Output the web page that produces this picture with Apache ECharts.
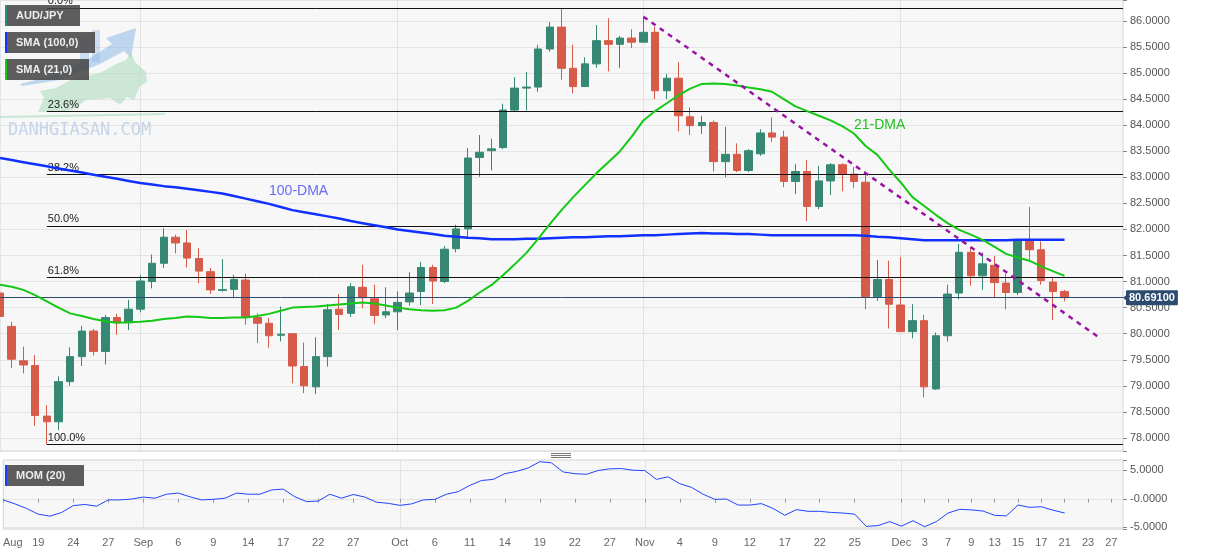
<!DOCTYPE html>
<html><head><meta charset="utf-8">
<script src="https://cdn.jsdelivr.net/npm/echarts@6/dist/echarts.min.js"></script>
<style>html,body{margin:0;padding:0;background:#fff}#c{width:1207px;height:555px}</style>
</head><body><div id="c"></div>
<script>
// ---------- DATA ----------
const categories = [
 '08-16','08-17','08-18','08-19','08-20','08-23','08-24','08-25','08-26','08-27','08-30','08-31',
 '09-01','09-02','09-03','09-06','09-07','09-08','09-09','09-10','09-13','09-14','09-15','09-16','09-17','09-20','09-21','09-22','09-23','09-24','09-27','09-28','09-29','09-30',
 '10-01','10-04','10-05','10-06','10-07','10-08','10-11','10-12','10-13','10-14','10-15','10-18','10-19','10-20','10-21','10-22','10-25','10-26','10-27','10-28','10-29',
 '11-01','11-02','11-03','11-04','11-05','11-08','11-09','11-10','11-11','11-12','11-15','11-16','11-17','11-18','11-19','11-22','11-23','11-24','11-25','11-26','11-29','11-30',
 '12-01','12-02','12-03','12-06','12-07','12-08','12-09','12-10','12-13','12-14','12-15','12-16','12-17','12-20','12-21',
 '12-22','12-23','12-24','12-27','12-28'
];
const opens = [80.78,80.14,79.48,79.39,78.42,78.31,79.08,79.56,80.05,79.66,80.31,80.21,
 80.47,81.00,81.35,81.85,81.74,81.44,81.19,80.83,80.85,81.03,80.31,80.20,79.97,80.00,79.37,78.98,79.56,80.47,80.39,80.89,80.67,80.36,
 80.42,80.61,80.81,81.27,81.00,81.63,82.01,83.38,83.51,83.57,84.29,84.71,84.73,85.46,85.88,85.09,84.74,85.175,85.62,85.55,85.67,
 85.59,85.78,84.66,84.90,84.16,83.99,84.05,83.30,83.44,83.13,83.45,83.85,83.77,82.92,83.11,82.44,82.93,83.24,83.06,82.905,80.71,81.04,
 80.55,80.04,80.25,78.94,79.96,80.78,81.56,81.11,81.31,80.97,80.79,81.78,81.61,80.99,80.81];
const closes = [80.33,79.51,79.40,78.43,78.31,79.08,79.56,80.05,79.66,80.31,80.21,80.47,
 81.01,81.35,81.85,81.74,81.45,81.20,80.84,80.845,81.04,80.33,80.20,79.96,79.99,79.38,79.00,79.56,80.46,80.37,80.90,80.69,80.35,80.42,
 80.60,80.78,81.27,81.01,81.62,82.01,83.37,83.48,83.545,84.29,84.71,84.73,85.46,85.88,85.09,84.74,85.175,85.62,85.55,85.67,85.59,
 85.78,84.66,84.90,84.18,83.99,84.05,83.30,83.44,83.13,83.51,83.85,83.77,82.92,83.11,82.44,82.93,83.24,83.06,82.92,80.71,81.04,80.565,
 80.04,80.25,78.98,79.96,80.76,81.56,81.11,81.34,80.98,80.79,81.78,81.61,81.02,80.81,80.691];
const lows = [79.89,79.34,79.24,78.23,77.88,78.15,79.00,79.38,79.58,79.41,79.98,80.07,
 80.41,80.87,81.26,81.54,81.27,80.97,80.76,80.81,80.68,80.17,79.82,79.73,79.85,79.05,78.86,78.84,79.37,80.07,80.32,80.49,80.19,80.30,
 80.07,80.54,80.55,80.57,80.97,81.56,81.83,83.01,83.13,83.54,84.26,84.28,84.64,85.41,84.87,84.61,84.73,85.10,85.03,85.10,85.48,
 85.59,84.50,84.50,83.88,83.81,83.83,83.11,83.00,83.10,83.10,83.41,83.68,82.81,82.68,82.16,82.39,82.66,82.73,82.79,80.47,80.63,80.10,
 80.04,79.91,78.78,78.92,79.85,80.66,80.92,80.84,80.70,80.47,80.74,81.415,80.94,80.26,80.62];
const highs = [80.88,80.23,79.75,79.59,78.63,79.18,79.74,80.15,80.09,80.36,80.38,80.65,
 81.13,81.52,82.02,81.90,81.99,81.64,81.26,81.43,81.13,81.15,80.39,80.30,80.52,80.00,79.83,79.93,80.57,80.76,80.97,81.32,80.94,80.89,
 80.81,81.18,81.38,81.32,81.68,82.09,83.56,83.81,83.74,84.41,84.92,85.02,85.54,85.975,86.24,85.54,85.30,85.92,86.05,85.71,85.84,
 86.08,85.89,84.98,85.21,84.34,84.18,84.09,83.97,83.65,83.54,83.92,84.15,83.89,83.25,83.33,83.22,83.27,83.27,83.20,83.08,81.415,81.40,
 81.47,80.565,80.36,80.02,80.94,81.72,81.66,81.56,81.49,81.15,81.785,82.43,81.77,81.09,80.84];
const sma100 = [83.37,83.33,83.29,83.25,83.21,83.17,83.13,83.09,83.05,83.01,82.97,82.93,82.89,
 82.86,82.83,82.81,82.78,82.75,82.72,82.69,
 82.64,82.59,82.54,82.49,82.43,82.37,82.33,82.29,82.25,82.21,82.16,82.12,82.08,82.04,82.00,
 81.97,81.94,81.91,81.88,81.86,81.84,81.83,81.81,81.81,81.81,
 81.82,81.82,81.83,81.84,81.85,81.85,81.86,81.87,81.87,81.88,81.89,81.89,81.90,81.91,81.92,81.93,
 81.92,81.92,81.91,81.91,81.90,81.89,81.89,81.89,81.89,81.89,81.89,81.89,81.89,
 81.88,81.86,81.85,81.83,81.81,81.79,81.79,81.79,81.79,81.79,81.79,81.79,81.79,81.80,81.80,81.80,81.80,81.80];
const sma21 = [80.94,80.90,80.84,80.74,80.62,80.50,80.39,80.34,80.28,80.24,
 80.21,80.22,80.23,80.25,80.28,80.30,80.33,80.32,80.30,80.30,
 80.31,80.31,80.34,80.38,80.44,80.50,80.51,80.52,80.54,80.56,
 80.58,80.60,80.58,80.54,80.50,80.47,80.45,80.44,80.45,80.50,
 80.63,80.79,80.93,81.12,81.33,81.55,81.82,82.10,82.37,82.62,
 82.85,83.08,83.29,83.50,83.78,84.09,84.27,84.42,84.57,84.70,
 84.79,84.80,84.79,84.76,84.72,84.69,84.64,84.50,84.36,84.27,
 84.18,84.09,83.98,83.84,83.60,83.43,83.15,82.90,82.62,82.45,
 82.28,82.12,81.99,81.90,81.80,81.67,81.53,81.46,81.40,81.29,
 81.20,81.11];
const mom20 = [-0.2,-0.9,-1.7,-2.7,-3.05,-2.4,-1.2,-1.0,-1.3,-0.2,
 -0.2,-0.05,0.3,0.1,0.8,1.0,0.35,-0.2,-0.1,0.1,
 1.0,0.8,0.8,1.55,1.7,0.35,-0.5,-0.4,0.8,0.1,
 0.75,0.3,-0.6,-0.8,-1.15,-0.9,-0.2,-0.1,0.8,1.25,
 2.35,3.2,3.4,4.4,4.8,5.4,6.5,6.3,4.7,4.4,
 4.3,4.95,5.25,5.3,5.0,4.95,3.4,3.85,2.65,2.0,
 0.8,-0.1,-0.05,-1.1,-1.1,-0.85,-1.7,-2.9,-1.9,-2.2,
 -2.2,-2.4,-2.5,-2.7,-4.85,-4.7,-4.0,-4.8,-3.85,-4.9,
 -4.0,-2.5,-1.85,-1.95,-2.15,-2.9,-3.0,-1.1,-1.5,-1.4,
 -2.0,-2.5];
const xTickDates = ['08-16','08-19','08-24','08-27','09-01','09-06','09-09','09-14','09-17','09-22','09-27',
 '10-01','10-06','10-11','10-14','10-19','10-22','10-27','11-01','11-04','11-09','11-12','11-17','11-22','11-25',
 '12-01','12-03','12-07','12-09','12-13','12-15','12-17','12-21','12-23','12-27'];
const xTickTexts = ['Aug','19','24','27','Sep','6','9','14','17','22','27',
 'Oct','6','11','14','19','22','27','Nov','4','9','12','17','22','25',
 'Dec','3','7','9','13','15','17','21','23','27'];
const monthStarts = ['09-01','10-01','11-01','12-01'];
const priceTicks = [78,78.5,79,79.5,80,80.5,81,81.5,82,82.5,83,83.5,84,84.5,85,85.5,86];
const momTicks = [-5,0,5];
const momTickLabels = ['-5.0000','-0.0000','5.0000'];
const fibLevels = [86.25,84.27,83.05,82.07,81.08,77.88];
const fibLabels = ['0.0%','23.6%','38.2%','50.0%','61.8%','100.0%'];
const fibStart = '08-20';
const trendLine = [['11-01',86.08],['12-24',79.92]];
const lastPrice = 80.691;
const lastPriceText = '80.69100';

// ---------- CHART ----------
const FONT = 'Liberation Sans, Arial, sans-serif';
const chart = echarts.init(document.getElementById('c'), null, {renderer:'canvas'});
const candleData = opens.map((o,i)=>[o, closes[i], lows[i], highs[i]]);
const tickSet = new Set(xTickDates);
const monthSet = new Set(monthStarts);
const lastCat = categories[categories.length-1];

const fibMarks = fibLevels.map((v,i)=>[
  {coord:[fibStart, v], name: fibLabels[i]},
  {coord:[lastCat, v]}
]);

function xAxisBase(gi){
  return {
    type:'category', gridIndex:gi, data:categories, boundaryGap:false,
    axisLine:{show:false},
    splitLine:{show:true, interval:(idx,val)=>monthSet.has(categories[idx]) || monthSet.has(val), lineStyle:{color:'#e3e3e3', width:1}},
  };
}

const option = {
  animation:false,
  backgroundColor:'#ffffff',
  textStyle:{fontFamily:FONT},
  grid:[
    {left:0, right:84, top:0, height:451, show:true, backgroundColor:'#f7f7f7', borderColor:'#cfd3e3', borderWidth:1},
    {left:0, right:84, top:460, height:69, show:true, backgroundColor:'#f7f7f7', borderColor:'#cfd3e3', borderWidth:1}
  ],
  xAxis:[
    Object.assign(xAxisBase(0), {axisTick:{show:false}, axisLabel:{show:false}}),
    Object.assign(xAxisBase(1), {
      axisTick:{show:true, length:4, interval:(idx,val)=>tickSet.has(val), lineStyle:{color:'#999'}},
      axisLabel:{show:true, interval:(idx,val)=>tickSet.has(val), color:'#666', fontSize:11, fontFamily:FONT, margin:8,
        formatter:(val)=>{ const k = xTickDates.indexOf(val); if (k<0) return ''; return k===0 ? '{a|'+xTickTexts[k]+'}' : xTickTexts[k]; },
        rich:{a:{color:'#666', fontSize:11, fontFamily:FONT, padding:[0,0,0,19]}}
      }
    })
  ],
  yAxis:[
    {type:'value', gridIndex:0, position:'right', min:77.75, max:86.40, splitNumber:17, minInterval:0.5, maxInterval:0.5, scale:true,
     axisLine:{show:false}, axisTick:{show:true, length:4, lineStyle:{color:'#888'}},
     axisLabel:{color:'#555', fontSize:11, fontFamily:FONT, margin:7,
       formatter:(v)=> priceTicks.some(t=>Math.abs(t-v)<1e-6) ? v.toFixed(4) : ''},
     splitLine:{show:true, lineStyle:{color:'#e4e4e4'}}},
    {type:'value', gridIndex:1, position:'right', min:-5.3, max:6.8, splitNumber:2, minInterval:5, maxInterval:5, scale:true,
     axisLine:{show:false}, axisTick:{show:true, length:4, lineStyle:{color:'#888'}},
     axisLabel:{color:'#555', fontSize:11, fontFamily:FONT, margin:7,
       formatter:(v)=>{ const k = momTicks.findIndex(t=>Math.abs(t-v)<1e-6); return k<0 ? '' : momTickLabels[k]; }},
     splitLine:{show:true, lineStyle:{color:'#e4e4e4'}}}
  ],
  series:[
    {type:'candlestick', name:'AUD/JPY', xAxisIndex:0, yAxisIndex:0, data:candleData, barWidth:8, z:3,
     itemStyle:{color:'#368874', color0:'#d75b49', borderColor:'#368874', borderColor0:'#d75b49', borderWidth:1},
     markLine:{silent:true, symbol:['none','none'], animation:false,
       lineStyle:{color:'#2d4b6e', width:1, type:'solid'},
       label:{show:true, position:'end', distance:3, formatter:lastPriceText, color:'#fff', fontWeight:'bold', fontSize:11, fontFamily:FONT,
              backgroundColor:'#2d4b6e', padding:[2,3,2,3], borderRadius:1},
       data:[{yAxis:lastPrice}]},
     markPoint:{silent:true, animation:false, symbol:'triangle', symbolSize:[10,6], symbolRotate:90, symbolOffset:[3,0],
       itemStyle:{color:'#2d4b6e'}, label:{show:false},
       data:[{coord:[lastCat, lastPrice]}]}
    },
    {type:'line', name:'fib', xAxisIndex:0, yAxisIndex:0, data:[], z:6,
     markLine:{silent:true, symbol:['none','none'], animation:false,
       lineStyle:{color:'#111', width:1, type:'solid'},
       label:{show:true, position:'insideStartTop', formatter:'{b}', color:'#222', fontSize:11, fontFamily:FONT, distance:[1,1]},
       data:fibMarks}},
    {type:'line', name:'SMA (100,0)', xAxisIndex:0, yAxisIndex:0, data:sma100, symbol:'none', z:5,
     lineStyle:{color:'#1030ff', width:2.5}},
    {type:'line', name:'SMA (21,0)', xAxisIndex:0, yAxisIndex:0, data:sma21, symbol:'none', z:5,
     lineStyle:{color:'#14c814', width:2}},
    {type:'line', name:'trend', xAxisIndex:0, yAxisIndex:0, data:trendLine, symbol:'none', z:7,
     lineStyle:{color:'#9a14a4', width:2.5, type:[5,5]}},
    {type:'line', name:'MOM (20)', xAxisIndex:1, yAxisIndex:1, data:mom20, symbol:'none', z:5,
     lineStyle:{color:'#2244ff', width:1}}
  ]
};
chart.setOption(option);

// ---------- overlays (legend boxes, watermark, labels) ----------
function legendBox(x, y, w, text, stripe){
  return {type:'group', x:x, y:y, z:100, children:[
    {type:'rect', shape:{x:0,y:0,width:w,height:21}, style:{fill:'rgba(72,72,72,0.88)'}, z:100},
    {type:'rect', shape:{x:0,y:0,width:2,height:21}, style:{fill:stripe}, z:101},
    {type:'text', x:11, y:11, z:101, style:{text:text, fill:'#eeeeee', font:'bold 11px '+FONT, verticalAlign:'middle', align:'left'}}
  ]};
}
const p100 = chart.convertToPixel({gridIndex:0}, [23, 82.74]);
const p21 = chart.convertToPixel({gridIndex:0}, [73, 84.00]);
chart.setOption({graphic:[
  // watermark logo (decorative)
  {type:'rect', z:1, shape:{x:80,y:38,width:9,height:30}, style:{fill:'rgba(150,190,230,0.45)'}},
  {type:'rect', z:1, shape:{x:92,y:30,width:8,height:32}, style:{fill:'rgba(150,190,230,0.45)'}},
  {type:'polygon', z:1, shape:{points:[[20,84],[55,75],[90,58],[112,44],[106,38],[136,28],[131,58],[124,51],[100,64],[60,80],[22,86]]},
   style:{fill:'rgba(150,190,230,0.6)'}},
  {type:'polygon', z:1, shape:{points:[[38,112],[44,98],[40,91],[56,88],[72,79],[100,73],[116,64],[126,60],[131,52],[135,62],[146,72],[147,82],[140,86],[134,100],[127,97],[120,105],[110,98],[86,100],[72,110],[60,112]]},
   style:{fill:'rgba(170,218,188,0.55)'}},
  {type:'polygon', z:1, shape:{points:[[0,116],[165,113],[165,115],[0,118]]}, style:{fill:'rgba(170,218,188,0.6)'}},
  {type:'text', z:1, x:8, y:131, style:{text:'DANHGIASAN.COM', font:'17px DejaVu Sans Mono', fill:'#c5d4e9', verticalAlign:'middle'}},
  legendBox(5, 5, 75, 'AUD/JPY', '#2f8a74'),
  legendBox(5, 32, 90, 'SMA (100,0)', '#1133ff'),
  legendBox(5, 59, 84, 'SMA (21,0)', '#11cc11'),
  legendBox(5, 465, 79, 'MOM (20)', '#1a3cff'),
  // pane splitter handle
  {type:'line', z:50, shape:{x1:551,y1:453.5,x2:571,y2:453.5}, style:{stroke:'#777', lineWidth:1}},
  {type:'line', z:50, shape:{x1:551,y1:455.5,x2:571,y2:455.5}, style:{stroke:'#777', lineWidth:1}},
  {type:'line', z:50, shape:{x1:551,y1:457.5,x2:571,y2:457.5}, style:{stroke:'#777', lineWidth:1}},
  // DMA annotations
  {type:'text', z:60, x:p100[0], y:p100[1], style:{text:'100-DMA', font:'14px '+FONT, fill:'#6b6bf2', verticalAlign:'middle', align:'left'}},
  {type:'text', z:60, x:p21[0], y:p21[1], style:{text:'21-DMA', font:'14px '+FONT, fill:'#1fc01f', verticalAlign:'middle', align:'left'}}
]});
</script>
</body></html>
